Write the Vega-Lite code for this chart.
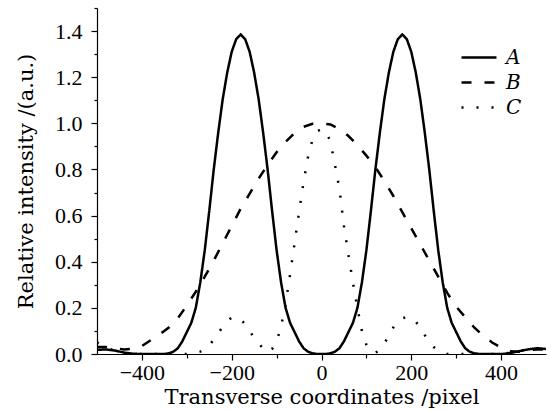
{
  "$schema": "https://vega.github.io/schema/vega-lite/v6.json",
  "width": 449,
  "height": 346,
  "autosize": {"type": "none"},
  "padding": {"left": 97, "top": 8, "right": 5, "bottom": 56},
  "background": "white",
  "config": {
    "view": {"stroke": null},
    "font": "DejaVu Serif",
    "axis": {
      "domainColor": "black",
      "tickColor": "black",
      "labelColor": "black",
      "titleColor": "black",
      "labelFont": "Liberation Serif",
      "titleFont": "DejaVu Serif",
      "labelFontSize": 22,
      "titleFontSize": 21,
      "titleFontWeight": "normal",
      "grid": false,
      "domainWidth": 1.2,
      "tickWidth": 1.2
    }
  },
  "data": {
    "values": [
      {"x": -500, "v": 0.018, "s": "A"}, {"x": -480, "v": 0.02, "s": "A"}, {"x": -460, "v": 0.015, "s": "A"}, {"x": -440, "v": 0.006, "s": "A"}, {"x": -420, "v": 0.001, "s": "A"}, {"x": -400, "v": 0, "s": "A"}, {"x": -380, "v": 0, "s": "A"}, {"x": -360, "v": 0, "s": "A"},
      {"x": -350, "v": 0, "s": "A"}, {"x": -340, "v": 0.003, "s": "A"}, {"x": -330, "v": 0.01, "s": "A"}, {"x": -320, "v": 0.025, "s": "A"}, {"x": -310, "v": 0.055, "s": "A"}, {"x": -300, "v": 0.095, "s": "A"}, {"x": -290, "v": 0.135, "s": "A"}, {"x": -280, "v": 0.2, "s": "A"}, {"x": -270, "v": 0.31, "s": "A"}, {"x": -260, "v": 0.45, "s": "A"}, {"x": -250, "v": 0.62, "s": "A"}, {"x": -240, "v": 0.8, "s": "A"}, {"x": -230, "v": 0.96, "s": "A"}, {"x": -220, "v": 1.105, "s": "A"}, {"x": -210, "v": 1.22, "s": "A"}, {"x": -200, "v": 1.31, "s": "A"}, {"x": -190, "v": 1.365, "s": "A"}, {"x": -180, "v": 1.385, "s": "A"}, {"x": -170, "v": 1.365, "s": "A"}, {"x": -160, "v": 1.31, "s": "A"}, {"x": -150, "v": 1.22, "s": "A"}, {"x": -140, "v": 1.105, "s": "A"}, {"x": -130, "v": 0.96, "s": "A"}, {"x": -120, "v": 0.8, "s": "A"}, {"x": -110, "v": 0.62, "s": "A"}, {"x": -100, "v": 0.45, "s": "A"}, {"x": -90, "v": 0.31, "s": "A"}, {"x": -80, "v": 0.2, "s": "A"}, {"x": -70, "v": 0.135, "s": "A"}, {"x": -60, "v": 0.095, "s": "A"}, {"x": -50, "v": 0.055, "s": "A"}, {"x": -40, "v": 0.025, "s": "A"}, {"x": -30, "v": 0.01, "s": "A"}, {"x": -20, "v": 0.003, "s": "A"}, {"x": -10, "v": 0, "s": "A"},
      {"x": 0, "v": 0, "s": "A"}, {"x": 10, "v": 0, "s": "A"}, {"x": 20, "v": 0.003, "s": "A"}, {"x": 30, "v": 0.01, "s": "A"}, {"x": 40, "v": 0.025, "s": "A"}, {"x": 50, "v": 0.055, "s": "A"}, {"x": 60, "v": 0.095, "s": "A"}, {"x": 70, "v": 0.135, "s": "A"}, {"x": 80, "v": 0.2, "s": "A"}, {"x": 90, "v": 0.31, "s": "A"}, {"x": 100, "v": 0.45, "s": "A"}, {"x": 110, "v": 0.62, "s": "A"}, {"x": 120, "v": 0.8, "s": "A"}, {"x": 130, "v": 0.96, "s": "A"}, {"x": 140, "v": 1.105, "s": "A"}, {"x": 150, "v": 1.22, "s": "A"}, {"x": 160, "v": 1.31, "s": "A"}, {"x": 170, "v": 1.365, "s": "A"}, {"x": 180, "v": 1.385, "s": "A"}, {"x": 190, "v": 1.365, "s": "A"}, {"x": 200, "v": 1.31, "s": "A"}, {"x": 210, "v": 1.22, "s": "A"}, {"x": 220, "v": 1.105, "s": "A"}, {"x": 230, "v": 0.96, "s": "A"}, {"x": 240, "v": 0.8, "s": "A"}, {"x": 250, "v": 0.62, "s": "A"}, {"x": 260, "v": 0.45, "s": "A"}, {"x": 270, "v": 0.31, "s": "A"}, {"x": 280, "v": 0.2, "s": "A"}, {"x": 290, "v": 0.135, "s": "A"}, {"x": 300, "v": 0.095, "s": "A"}, {"x": 310, "v": 0.055, "s": "A"}, {"x": 320, "v": 0.025, "s": "A"}, {"x": 330, "v": 0.01, "s": "A"}, {"x": 340, "v": 0.003, "s": "A"}, {"x": 350, "v": 0, "s": "A"},
      {"x": 380, "v": 0, "s": "A"}, {"x": 400, "v": 0, "s": "A"}, {"x": 410, "v": 0.001, "s": "A"}, {"x": 420, "v": 0.004, "s": "A"}, {"x": 440, "v": 0.012, "s": "A"}, {"x": 460, "v": 0.02, "s": "A"}, {"x": 480, "v": 0.025, "s": "A"}, {"x": 500, "v": 0.022, "s": "A"},

      {"x": -500, "v": 0.03, "s": "B"}, {"x": -480, "v": 0.03, "s": "B"}, {"x": -460, "v": 0.025, "s": "B"}, {"x": -440, "v": 0.02, "s": "B"}, {"x": -420, "v": 0.022, "s": "B"}, {"x": -400, "v": 0.035, "s": "B"}, {"x": -380, "v": 0.06, "s": "B"}, {"x": -360, "v": 0.085, "s": "B"}, {"x": -340, "v": 0.115, "s": "B"}, {"x": -320, "v": 0.155, "s": "B"}, {"x": -300, "v": 0.21, "s": "B"}, {"x": -280, "v": 0.27, "s": "B"}, {"x": -260, "v": 0.335, "s": "B"}, {"x": -240, "v": 0.405, "s": "B"}, {"x": -220, "v": 0.48, "s": "B"}, {"x": -200, "v": 0.555, "s": "B"}, {"x": -180, "v": 0.63, "s": "B"}, {"x": -160, "v": 0.695, "s": "B"}, {"x": -140, "v": 0.76, "s": "B"}, {"x": -120, "v": 0.82, "s": "B"}, {"x": -100, "v": 0.875, "s": "B"}, {"x": -80, "v": 0.92, "s": "B"}, {"x": -60, "v": 0.958, "s": "B"}, {"x": -40, "v": 0.985, "s": "B"}, {"x": -20, "v": 0.998, "s": "B"}, {"x": 0, "v": 1.0, "s": "B"}, {"x": 20, "v": 0.995, "s": "B"}, {"x": 40, "v": 0.975, "s": "B"}, {"x": 60, "v": 0.945, "s": "B"}, {"x": 80, "v": 0.905, "s": "B"}, {"x": 100, "v": 0.86, "s": "B"}, {"x": 120, "v": 0.81, "s": "B"}, {"x": 140, "v": 0.75, "s": "B"}, {"x": 160, "v": 0.685, "s": "B"}, {"x": 180, "v": 0.615, "s": "B"}, {"x": 200, "v": 0.545, "s": "B"}, {"x": 220, "v": 0.475, "s": "B"}, {"x": 240, "v": 0.405, "s": "B"}, {"x": 260, "v": 0.335, "s": "B"}, {"x": 280, "v": 0.265, "s": "B"}, {"x": 300, "v": 0.205, "s": "B"}, {"x": 320, "v": 0.16, "s": "B"}, {"x": 340, "v": 0.115, "s": "B"}, {"x": 360, "v": 0.08, "s": "B"}, {"x": 380, "v": 0.05, "s": "B"}, {"x": 400, "v": 0.028, "s": "B"}, {"x": 420, "v": 0.012, "s": "B"}, {"x": 440, "v": 0.01, "s": "B"}, {"x": 460, "v": 0.016, "s": "B"}, {"x": 480, "v": 0.02, "s": "B"}, {"x": 500, "v": 0.02, "s": "B"},

      {"x": -500, "v": 0.05, "s": "C"}, {"x": -480, "v": 0.03, "s": "C"}, {"x": -460, "v": 0.012, "s": "C"}, {"x": -440, "v": 0.003, "s": "C"}, {"x": -420, "v": 0, "s": "C"}, {"x": -300, "v": 0, "s": "C"}, {"x": -280, "v": 0.005, "s": "C"}, {"x": -270, "v": 0.01, "s": "C"}, {"x": -260, "v": 0.02, "s": "C"}, {"x": -250, "v": 0.038, "s": "C"}, {"x": -240, "v": 0.062, "s": "C"}, {"x": -230, "v": 0.09, "s": "C"}, {"x": -220, "v": 0.118, "s": "C"}, {"x": -210, "v": 0.142, "s": "C"}, {"x": -200, "v": 0.158, "s": "C"}, {"x": -190, "v": 0.16, "s": "C"}, {"x": -180, "v": 0.15, "s": "C"}, {"x": -170, "v": 0.13, "s": "C"}, {"x": -160, "v": 0.1, "s": "C"}, {"x": -150, "v": 0.07, "s": "C"}, {"x": -140, "v": 0.045, "s": "C"}, {"x": -130, "v": 0.025, "s": "C"}, {"x": -120, "v": 0.008, "s": "C"}, {"x": -110, "v": 0.022, "s": "C"}, {"x": -100, "v": 0.053, "s": "C"}, {"x": -90, "v": 0.12, "s": "C"}, {"x": -80, "v": 0.215, "s": "C"}, {"x": -70, "v": 0.345, "s": "C"}, {"x": -60, "v": 0.48, "s": "C"}, {"x": -50, "v": 0.615, "s": "C"}, {"x": -40, "v": 0.745, "s": "C"}, {"x": -30, "v": 0.855, "s": "C"}, {"x": -20, "v": 0.93, "s": "C"}, {"x": -10, "v": 0.965, "s": "C"}, {"x": 0, "v": 0.975, "s": "C"}, {"x": 10, "v": 0.965, "s": "C"}, {"x": 20, "v": 0.92, "s": "C"}, {"x": 30, "v": 0.82, "s": "C"}, {"x": 40, "v": 0.715, "s": "C"}, {"x": 50, "v": 0.555, "s": "C"}, {"x": 60, "v": 0.43, "s": "C"}, {"x": 70, "v": 0.31, "s": "C"}, {"x": 80, "v": 0.2, "s": "C"}, {"x": 90, "v": 0.1, "s": "C"}, {"x": 100, "v": 0.04, "s": "C"}, {"x": 110, "v": 0.01, "s": "C"}, {"x": 120, "v": 0.005, "s": "C"}, {"x": 130, "v": 0.018, "s": "C"}, {"x": 140, "v": 0.045, "s": "C"}, {"x": 150, "v": 0.08, "s": "C"}, {"x": 160, "v": 0.115, "s": "C"}, {"x": 170, "v": 0.14, "s": "C"}, {"x": 180, "v": 0.155, "s": "C"}, {"x": 190, "v": 0.16, "s": "C"}, {"x": 200, "v": 0.158, "s": "C"}, {"x": 210, "v": 0.14, "s": "C"}, {"x": 220, "v": 0.115, "s": "C"}, {"x": 230, "v": 0.082, "s": "C"}, {"x": 240, "v": 0.052, "s": "C"}, {"x": 250, "v": 0.03, "s": "C"}, {"x": 260, "v": 0.015, "s": "C"}, {"x": 270, "v": 0.005, "s": "C"}, {"x": 280, "v": 0, "s": "C"}, {"x": 400, "v": 0, "s": "C"}, {"x": 420, "v": 0.005, "s": "C"}, {"x": 440, "v": 0.012, "s": "C"}, {"x": 460, "v": 0.02, "s": "C"}, {"x": 480, "v": 0.025, "s": "C"}, {"x": 500, "v": 0.025, "s": "C"}
    ]
  },
  "layer": [
    {
      "mark": {"type": "line", "color": "black", "opacity": 0, "clip": true},
      "encoding": {
        "x": {"field": "x", "type": "quantitative", "scale": {"domain": [-500, 500], "nice": false},
          "axis": {"values": [-300, -100, 100, 300], "labels": false, "domain": false, "tickSize": 4, "title": null, "orient": "bottom"}},
        "y": {"field": "v", "type": "quantitative", "scale": {"domain": [0, 1.5], "nice": false},
          "axis": {"values": [0.1, 0.3, 0.5, 0.7, 0.9, 1.1, 1.3, 1.5], "labels": false, "domain": false, "tickSize": 3, "title": null, "orient": "left"}},
        "detail": {"field": "s"}
      }
    },
    {
      "mark": {"type": "line", "color": "black", "strokeWidth": 2.5, "clip": true},
      "encoding": {
        "x": {"field": "x", "type": "quantitative", "scale": {"domain": [-500, 500], "nice": false},
          "axis": {"values": [-400, -200, 0, 200, 400], "tickSize": 6, "labelPadding": 2, "title": "Transverse coordinates /pixel", "titlePadding": 3, "labelFlush": false, "orient": "bottom"}},
        "y": {"field": "v", "type": "quantitative", "scale": {"domain": [0, 1.5], "nice": false},
          "axis": {"values": [0, 0.2, 0.4, 0.6, 0.8, 1.0, 1.2, 1.4], "format": ".1f", "tickSize": 6, "labelPadding": 9, "title": "Relative intensity /(a.u.)", "titlePadding": 18, "orient": "left"}},
        "strokeDash": {
          "field": "s", "type": "nominal",
          "scale": {"domain": ["A", "B", "C"], "range": [[1, 0], [10, 13], [2, 13]]},
          "legend": {
            "orient": "none", "legendX": 363, "legendY": 37, "title": null, "padding": 0,
            "symbolType": "stroke", "symbolSize": 1225, "symbolStrokeWidth": 2.5, "symbolStrokeColor": "black",
            "clipHeight": 25, "rowPadding": 0, "labelOffset": 8,
            "labelFont": "DejaVu Serif", "labelFontStyle": "italic", "labelFontSize": 20, "labelColor": "black"
          }
        }
      }
    }
  ],
  "resolve": {"axis": {"x": "independent", "y": "independent"}}
}
